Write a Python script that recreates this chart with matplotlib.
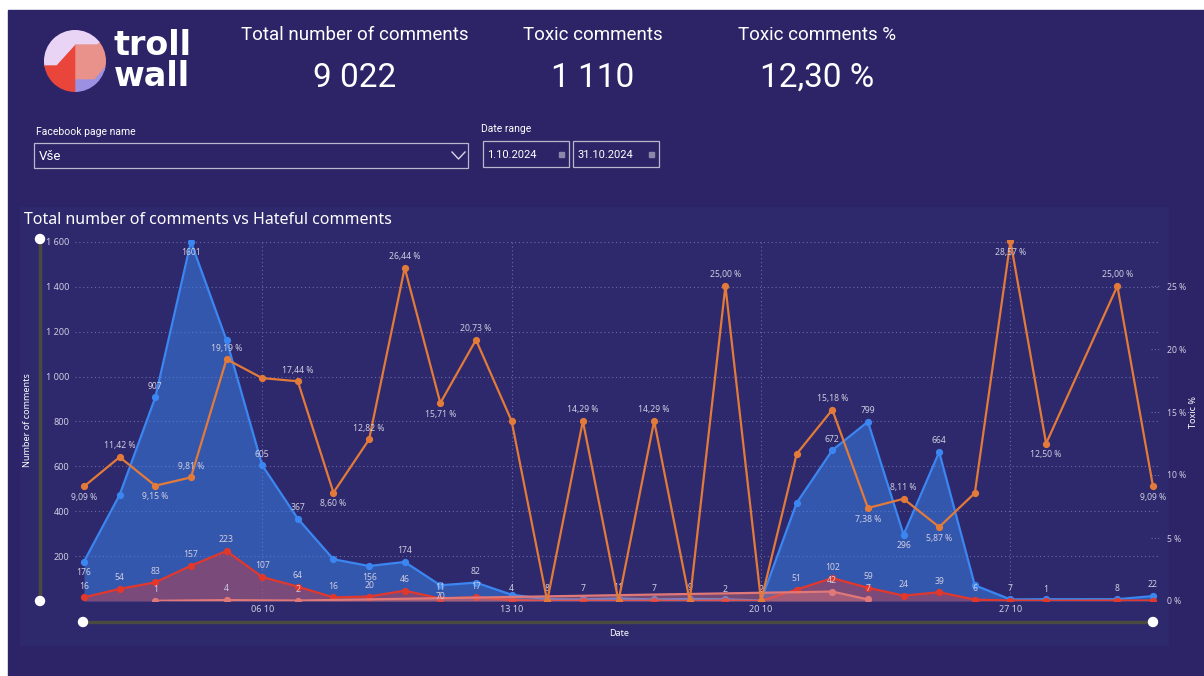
import matplotlib
matplotlib.use("Agg")
import matplotlib.pyplot as plt
from matplotlib.patches import Rectangle, Ellipse, Polygon, Circle

# ---- data (October 2024, day 29 has no comments) ----
days = [1, 2, 3, 4, 5, 6, 7, 8, 9, 10, 11, 12, 13, 14, 15, 16, 17, 18, 19, 20,
        21, 22, 23, 24, 25, 26, 27, 28, 30, 31]
total_comments = [176, 473, 907, 1601, 1162, 605, 367, 186, 156, 174, 70, 82, 28, 8, 7, 11, 7, 9, 8, 2,
                  437, 672, 799, 296, 664, 70, 7, 8, 8, 22]
toxic_comments = [16, 54, 83, 157, 223, 107, 64, 16, 20, 46, 11, 17, 4, 0, 1, 0, 1, 0, 2, 0,
                  51, 102, 59, 24, 39, 6, 2, 1, 2, 2]
toxic_pct = [9.09, 11.42, 9.15, 9.81, 19.19, 17.69, 17.44, 8.60, 12.82, 26.44, 15.71, 20.73, 14.29, 0.0,
             14.29, 0.0, 14.29, 0.0, 25.00, 0.0, 11.67, 15.18, 7.38, 8.11, 5.87, 8.57, 28.57, 12.50,
             25.00, 9.09]
hateful_days = [3, 5, 7, 22, 23]
hateful_comments = [1, 4, 2, 42, 7]

tick_days = [6, 13, 20, 27]
tick_labels = ["06 10", "13 10", "20 10", "27 10"]
left_ticks = [200, 400, 600, 800, 1000, 1200, 1400, 1600]
right_ticks = [0, 5, 10, 15, 20, 25]

kpi_titles = ["Total number of comments", "Toxic comments", "Toxic comments %"]
kpi_values = ["9 022", "1 110", "12,30 %"]

# which data labels are visible (a = above, b = below)
total_lbl = {1: 'b', 3: 'a', 4: 'b', 6: 'a', 7: 'a', 9: 'b', 10: 'a', 11: 'b', 12: 'a', 14: 'a',
             15: 'a', 16: 'a', 17: 'a', 18: 'a', 20: 'a', 22: 'a', 23: 'a', 24: 'b', 25: 'a',
             27: 'a', 30: 'a', 31: 'a'}
toxic_lbl = [1, 2, 3, 4, 5, 6, 7, 8, 9, 10, 11, 12, 13, 19, 21, 22, 23, 24, 25, 26, 28]
pct_lbl = {1: 'b', 2: 'a', 3: 'b', 4: 'a', 5: 'a', 7: 'a', 8: 'b', 9: 'a', 10: 'a', 11: 'b', 12: 'a',
           15: 'a', 17: 'a', 19: 'a', 22: 'a', 23: 'b', 24: 'a', 25: 'b', 27: 'b', 28: 'b',
           30: 'a', 31: 'b'}

BG = "#2c2467"
PANEL = "#2e296d"
BLUE = "#3b86f0"
RED = "#e2382c"
ORANGE = "#e27a3a"
PINK = "#e07878"
GRID = "#6c68a2"
TXT = "#cfcde0"
LBL_FONT = ["Noto Sans", "DejaVu Sans"]
KPI_FONT = ["Roboto", "DejaVu Sans"]

W, H = 1204, 676
fig = plt.figure(figsize=(W / 100, H / 100), dpi=100)
fig.patch.set_facecolor("white")

# background layer in pixel coordinates
bg = fig.add_axes([0, 0, 1, 1], zorder=0)
bg.set_xlim(0, W)
bg.set_ylim(H, 0)
bg.axis("off")
bg.add_patch(Rectangle((8, 10), W - 8, H - 10, color=BG))
bg.add_patch(Rectangle((20, 207), 1148, 438, color=PANEL))

# logo
clip = Ellipse((75, 61), 62, 62, transform=bg.transData)
for pts, col in [
    ([(40, 66), (57, 66), (76, 45), (98, 45), (110, 28), (110, 20), (40, 20)], "#e9d4f6"),
    ([(40, 66), (57, 66), (76, 45), (76, 100), (40, 100)], "#e9453b"),
    ([(76, 45), (98, 45), (110, 28), (110, 64), (95, 80), (76, 80)], "#e9928b"),
    ([(76, 80), (95, 80), (110, 62), (110, 100), (76, 100)], "#9c90e2"),
]:
    p = Polygon(pts, closed=True, color=col)
    bg.add_patch(p)
    p.set_clip_path(clip)
bg.text(114, 61, "troll\nwall", fontsize=24, fontweight="heavy", color="white", va="center",
        linespacing=0.92, family=["DejaVu Sans"])

# KPI cards
for cx, t, v in zip([355, 593, 817], kpi_titles, kpi_values):
    bg.text(cx, 35, t, fontsize=13.5, color="white", ha="center", va="center", family=KPI_FONT)
    bg.text(cx, 78, v, fontsize=24, color="white", ha="center", va="center", family=KPI_FONT)

# slicers
bg.text(36, 132, "Facebook page name", fontsize=7.5, color="white", va="center", family=KPI_FONT)
bg.add_patch(Rectangle((34, 143), 434, 25, fill=False, ec="#b9b7cc", lw=0.9))
bg.text(39, 157, "Vše", fontsize=9.5, color="white", va="center", family=KPI_FONT)
bg.plot([452, 458.5, 465], [152, 159, 152], color="#d8d6e6", lw=1)
bg.text(481, 129, "Date range", fontsize=7.5, color="white", va="center", family=KPI_FONT)
for x0, d in [(483, "1.10.2024"), (573, "31.10.2024")]:
    bg.add_patch(Rectangle((x0, 141), 86, 26, fill=False, ec="#b9b7cc", lw=0.9))
    bg.text(x0 + 4, 155, d, fontsize=8, color="white", va="center", family=KPI_FONT)
    bg.add_patch(Rectangle((x0 + 76, 152), 5, 5, color="#8a88a8"))

# chart title and axis titles
bg.text(24, 220, "Total number of comments vs Hateful comments", fontsize=11.5, color="white",
        va="center", family=LBL_FONT)
bg.text(28, 420, "Number of comments", fontsize=6.5, color="white", rotation=90,
        ha="center", va="center", family=LBL_FONT, fontweight="bold")
bg.text(1194, 412, "Toxic %", fontsize=6.5, color="white", rotation=90, ha="center",
        va="center", family=LBL_FONT, fontweight="bold")
bg.text(619, 633, "Date", fontsize=6.5, color="white", ha="center", va="center",
        family=LBL_FONT, fontweight="bold")

# zoom sliders
bg.plot([40, 40], [239, 601], color="#4b4a40", lw=2.5)
bg.plot([83, 1153], [622, 622], color="#4b4a40", lw=2.5)
for cx, cy in [(40, 239), (40, 601), (83, 622), (1153, 622)]:
    bg.add_patch(Circle((cx, cy), 4.5, color="white", zorder=3))

# ---- main chart ----
ax = fig.add_axes([75 / W, 75 / H, 1085 / W, 361 / H], zorder=1)
ax.set_facecolor("none")
px_day = (1153 - 84) / 30
ax.set_xlim(1 - 9 / px_day, 31 + 7 / px_day)
ax.set_ylim(0, 361 / 0.2244)
for s in ax.spines.values():
    s.set_visible(False)

ax.set_yticks(left_ticks)
ax.set_yticklabels([f"{v:,}".replace(",", " ") for v in left_ticks])
ax.set_xticks(tick_days)
ax.set_xticklabels(tick_labels)
ax.tick_params(axis="both", length=0, labelsize=6.5, labelcolor=TXT)
ax.tick_params(axis="y", pad=4)
ax.tick_params(axis="x", pad=3)
for lab in ax.get_xticklabels() + ax.get_yticklabels():
    lab.set_family(LBL_FONT)
ax.grid(True, ls=(0, (1, 2.5)), color=GRID, lw=0.8)
ax.set_axisbelow(True)

ax.fill_between(days, total_comments, 0, color=BLUE, alpha=0.5, lw=0, zorder=2)
ax.plot(days, total_comments, color=BLUE, lw=1.6, marker="o", ms=4.2, zorder=3)
ax.fill_between(days, toxic_comments, 0, color=RED, alpha=0.4, lw=0, zorder=4)
ax.plot(days, toxic_comments, color=RED, lw=1.6, marker="o", ms=4.2, zorder=5)
ax.fill_between(hateful_days, hateful_comments, 0, color=PINK, alpha=0.4, lw=0, zorder=6)
ax.plot(hateful_days, hateful_comments, color=PINK, lw=1.6, marker="o", ms=4.2, zorder=7)


def put(a, x, y, s, where):
    dy = 8 if where == 'a' else -8
    a.annotate(s, (x, y), xytext=(0, dy), textcoords="offset points", ha="center",
               va="center", fontsize=6.2, color=TXT, family=LBL_FONT, zorder=10)


for d, v in zip(days, total_comments):
    if d in total_lbl:
        put(ax, d, v, str(v), total_lbl[d])
for d, v in zip(days, toxic_comments):
    if d in toxic_lbl:
        put(ax, d, v, str(v), 'a')
for d, v in zip(hateful_days, hateful_comments):
    put(ax, d, v, str(v), 'a')

ax2 = ax.twinx()
ax2.set_ylim(0, 361 / 12.6)
for s in ax2.spines.values():
    s.set_visible(False)
ax2.set_yticks(right_ticks)
ax2.set_yticklabels([f"{v} %" for v in right_ticks])
ax2.tick_params(axis="y", length=0, labelsize=6.2, labelcolor=TXT, pad=5)
for lab in ax2.get_yticklabels():
    lab.set_family(LBL_FONT)
ax2.hlines(right_ticks, 0.992, 1.0, transform=ax2.get_yaxis_transform(), colors=GRID,
           linestyles=(0, (1, 2)), lw=0.8)
ax2.plot(days, toxic_pct, color=ORANGE, lw=1.6, marker="o", ms=4.2, zorder=5)
for d, v in zip(days, toxic_pct):
    if d in pct_lbl:
        put(ax2, d, v, f"{v:.2f} %".replace(".", ","), pct_lbl[d])

fig.savefig("out.png", dpi=100, facecolor=fig.get_facecolor())
